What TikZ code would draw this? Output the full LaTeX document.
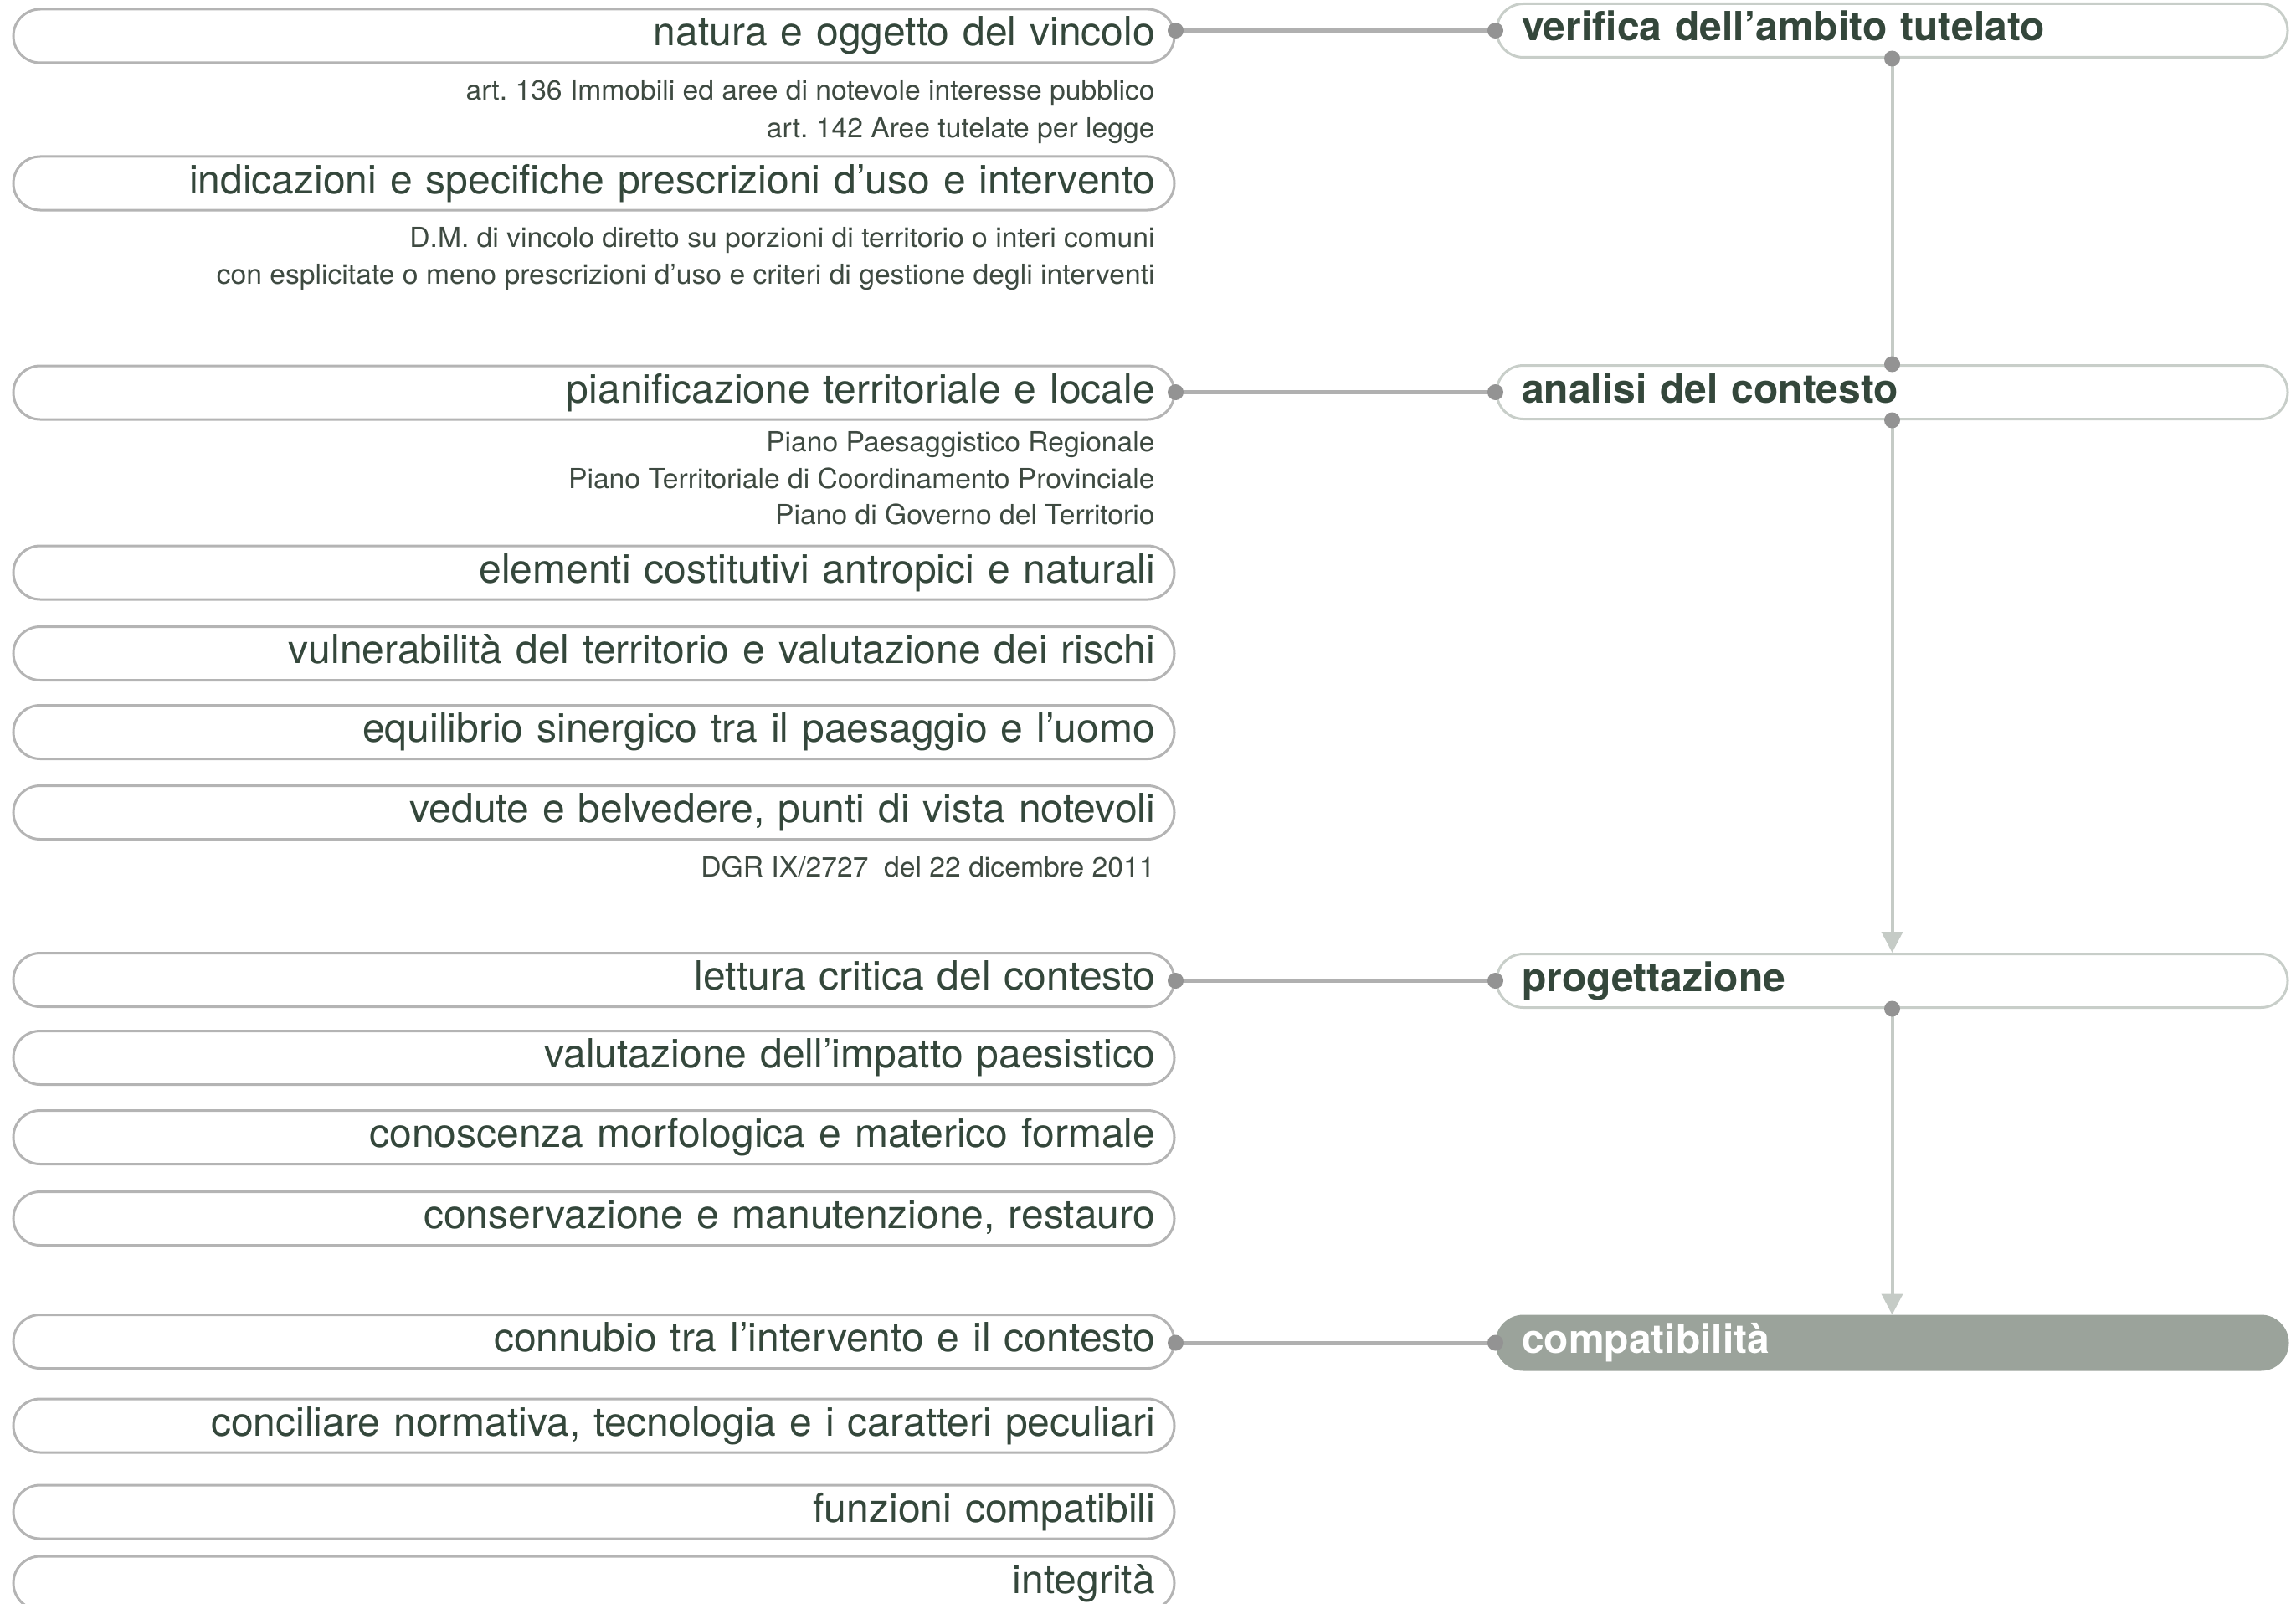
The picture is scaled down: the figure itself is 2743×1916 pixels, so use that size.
\documentclass[tikz,border=0pt]{standalone}
\usepackage{fontspec}
\setmainfont{TeX Gyre Heros}
\newfontfamily\bodyfont{TeX Gyre Heros}
\newfontfamily\subfont[FakeStretch=1.02]{TeX Gyre Heros}
\newfontfamily\headfont{TeX Gyre Heros}
\usetikzlibrary{arrows.meta}
\definecolor{lborder}{HTML}{B4B4B4}
\definecolor{rborder}{HTML}{C8CEC9}
\definecolor{hline}{HTML}{B0B0B0}
\definecolor{vline}{HTML}{C5CBC6}
\definecolor{dotc}{HTML}{939393}
\definecolor{compfill}{HTML}{9BA39B}
\definecolor{txt}{HTML}{34473B}
\definecolor{subtxt}{HTML}{3E4A41}
\frenchspacing
\tikzset{
  leftbox/.style={draw=lborder, line width=1.5pt, rounded corners=16pt,
    minimum width=693.5pt, minimum height=32pt, inner xsep=11.5pt, inner ysep=0pt,
    text width=670.5pt, align=right, text height=16pt, text depth=4pt,
    font=\bodyfont\fontsize{24}{28}\selectfont, text=txt},
  headbox/.style={draw=rborder, line width=1.5pt, rounded corners=16pt,
    minimum width=472.5pt, minimum height=32pt, inner xsep=15pt, inner ysep=0pt,
    text width=442.5pt, align=left, text height=15pt, text depth=2.5pt,
    font=\headfont\bfseries\fontsize{24}{28}\selectfont, text=txt},
  compbox/.style={headbox, draw=compfill, fill=compfill, text=white},
  subtext/.style={anchor=base east, inner sep=0pt,
    font=\subfont\fontsize{16.5}{20}\selectfont, text=subtxt},
  hconn/.style={draw=hline, line width=2.5pt},
  vconn/.style={draw=vline, line width=2pt},
  vtip/.style={vconn, -{Triangle[width=12.5pt,length=12.5pt]}},
  dot/.style={fill=dotc}
}
\begin{document}
\frenchspacing
\begin{tikzpicture}[x=0.5pt,y=-0.5pt]
\useasboundingbox (0,0) rectangle (2743,1916);
% left column
\node[leftbox] (b1)  at (709.5,43)     {natura e oggetto del vincolo};
\node[subtext] (s1)  at (1380,120)     {art. 136 Immobili ed aree di notevole interesse pubblico};
\node[subtext] (s2)  at (1380,164)     {art. 142 Aree tutelate per legge};
\node[leftbox] (b2)  at (709.5,219)    {indicazioni e specifiche prescrizioni d’uso e intervento};
\node[subtext] (s3)  at (1380,295)     {D.M. di vincolo diretto su porzioni di territorio o interi comuni};
\node[subtext] (s4)  at (1380,339)     {con esplicitate o meno prescrizioni d’uso e criteri di gestione degli interventi};
\node[leftbox] (b3)  at (709.5,469)    {pianificazione territoriale e locale};
\node[subtext] (s5)  at (1380,539)     {Piano Paesaggistico Regionale};
\node[subtext] (s6)  at (1380,583)     {Piano Territoriale di Coordinamento Provinciale};
\node[subtext] (s7)  at (1380,626)     {Piano di Governo del Territorio};
\node[leftbox] (b4)  at (709.5,684)    {elementi costitutivi antropici e naturali};
\node[leftbox] (b5)  at (709.5,780.5)  {vulnerabilità del territorio e valutazione dei rischi};
\node[leftbox] (b6)  at (709.5,874.5)  {equilibrio sinergico tra il paesaggio e l’uomo};
\node[leftbox] (b7)  at (709.5,970.5)  {vedute e belvedere, punti di vista notevoli};
\node[subtext] (s8)  at (1380,1047)    {DGR IX/2727\ \ del 22 dicembre 2011};
\node[leftbox] (b8)  at (709.5,1170.5) {lettura critica del contesto};
\node[leftbox] (b9)  at (709.5,1263.5) {valutazione dell’impatto paesistico};
\node[leftbox] (b10) at (709.5,1358.5) {conoscenza morfologica e materico formale};
\node[leftbox] (b11) at (709.5,1455.5) {conservazione e manutenzione, restauro};
\node[leftbox] (b12) at (709.5,1602.5) {connubio tra l’intervento e il contesto};
\node[leftbox] (b13) at (709.5,1703)   {conciliare normativa, tecnologia e i caratteri peculiari};
\node[leftbox] (b14) at (709.5,1806)   {funzioni compatibili};
\node[leftbox] (b15) at (709.5,1891)   {integrità};
% right column
\node[headbox] (ver)  at (2260.5,36.5)  {verifica dell’ambito tutelato};
\node[headbox] (ana)  at (2260.5,468.5) {analisi del contesto};
\node[headbox] (prog) at (2260.5,1171.5){progettazione};
\node[compbox] (comp) at (2260.5,1604)  {compatibilità};
% horizontal connectors
\draw[hconn] (b1.east |- ver.west) -- (ver.west);
\draw[hconn] (b3.east |- ana.west) -- (ana.west);
\draw[hconn] (b8.east |- prog.west) -- (prog.west);
\draw[hconn] (b12.east |- comp.west) -- (comp.west);
% vertical connectors
\draw[vconn] (ver.south) -- (ana.north);
\draw[vtip] (ana.south) -- (prog.north);
\draw[vtip] (prog.south) -- (comp.north);
% dots
\foreach \a/\b in {b1/ver,b3/ana,b8/prog,b12/comp}{
  \fill[dot] (\a.east |- \b.west) circle[radius=4.75pt];
  \fill[dot] (\b.west) circle[radius=4.75pt];
}
\fill[dot] (ver.south) circle[radius=4.75pt];
\fill[dot] (ana.north) circle[radius=4.75pt];
\fill[dot] (ana.south) circle[radius=4.75pt];
\fill[dot] (prog.south) circle[radius=4.75pt];
\end{tikzpicture}
\end{document}
